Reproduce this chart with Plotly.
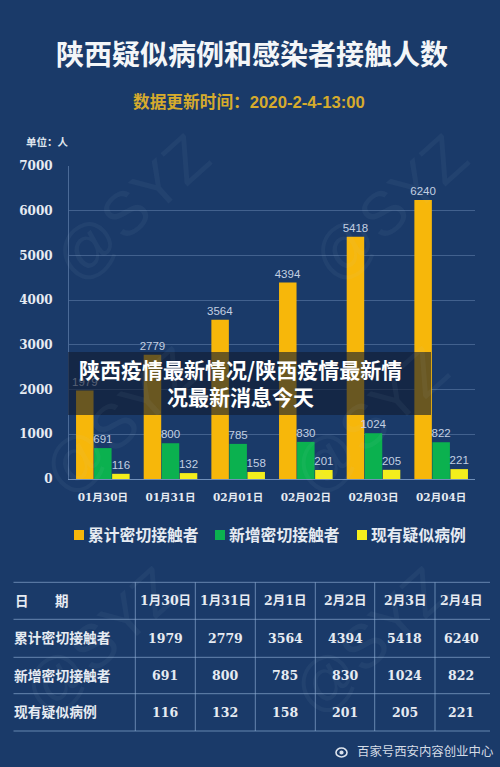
import plotly.graph_objects as go

W, H = 500, 767
dates = ["01月30日", "01月31日", "02月01日", "02月02日", "02月03日", "02月04日"]
table_dates = ["1月30日", "1月31日", "2月1日", "2月2日", "2月3日", "2月4日"]
cumulative = [1979, 2779, 3564, 4394, 5418, 6240]
new_contacts = [691, 800, 785, 830, 1024, 822]
suspected = [116, 132, 158, 201, 205, 221]
series_names = ["累计密切接触者", "新增密切接触者", "现有疑似病例"]
series_colors = ["#f7b70a", "#0bb14f", "#f4ee1c"]
y_ticks = [0, 1000, 2000, 3000, 4000, 5000, 6000, 7000]

BG = "#1a3a69"
CJK = "Noto Sans CJK SC"
SERIF = "DejaVu Serif"
LABEL = "#c3d0e2"
TEXT = "#e6ebf2"
LINE = "rgba(150,180,220,0.62)"


def px(x):
    return x / W


def py(y):
    return 1 - y / H


fig = go.Figure()
for name, vals, col in zip(series_names, [cumulative, new_contacts, suspected], series_colors):
    fig.add_bar(x=dates, y=vals, name=name, marker=dict(color=col, line_width=0),
                text=vals, textposition="outside", cliponaxis=False, textangle=0,
                constraintext="none", showlegend=False,
                textfont=dict(family="Liberation Sans", size=11.5, color=LABEL))

annots = []
shapes = []


def text(x, y, s, size, color=TEXT, family=CJK, anchor="center", **kw):
    annots.append(dict(xref="paper", yref="paper", x=px(x), y=py(y), text=s, showarrow=False,
                       xanchor=anchor, yanchor="middle", align="center",
                       font=dict(family=family, size=size, color=color), **kw))


def line(x0, y0, x1, y1, color=LINE, width=1):
    shapes.append(dict(type="line", xref="paper", yref="paper", x0=px(x0), y0=py(y0),
                       x1=px(x1), y1=py(y1), line=dict(color=color, width=width)))


# Watermarks
for wx, wy in [(132, 208), (390, 208), (120, 420), (370, 420), (100, 640), (370, 640)]:
    text(wx, wy, "@SYZ", 62, color="rgba(190,210,235,0.05)", family="Liberation Sans", textangle=-42)

# Headings
text(252, 53, "<b>陕西疑似病例和感染者接触人数</b>", 28, color="#f4f6f8")
text(249, 102, "<b>数据更新时间：2020-2-4-13:00</b>", 16.7, color="#d6ab2d",
     family=f"Liberation Sans, {CJK}")
text(47, 141, "<b>单位：人</b>", 10.5, color="#dfe5ee")

# Legend swatches and names
for sx, name, col in zip([74, 215, 357], series_names, series_colors):
    shapes.append(dict(type="rect", xref="paper", yref="paper", x0=px(sx), x1=px(sx + 10),
                       y0=py(540), y1=py(530), line_width=0, fillcolor=col))
    text(sx + 12, 534, f"<b>{name}</b>", 15.8, anchor="left")

# Table
t_left, t_right = 13.5, 490
col_x = [135.3, 195.3, 255.3, 315.3, 374.7, 435]
row_y = [582.3, 619.3, 657.3, 693.7, 731]
for y in row_y:
    line(t_left, y, t_right, y)
for x in col_x:
    line(x, row_y[0], x, row_y[-1])
centers = [(a + b) / 2 for a, b in zip(col_x, col_x[1:] + [t_right - 3])]
row_c = [(a + b) / 2 for a, b in zip(row_y, row_y[1:])]
text(13, row_c[0] - 1, "<b>日</b>", 13.5, anchor="left")
text(53, row_c[0] - 1, "<b>期</b>", 13.5, anchor="left")
for cx, d in zip(centers, table_dates):
    text(cx, row_c[0], f"<b>{d}</b>", 12.5, family=f"{SERIF}, {CJK}")
for ry, name, vals in zip(row_c[1:], series_names, [cumulative, new_contacts, suspected]):
    text(12, ry - 1, f"<b>{name}</b>", 13.8, anchor="left")
    for cx, v in zip(centers, vals):
        text(cx, ry, f"<b>{v}</b>", 12.5, family=SERIF)

# Source mark
shapes.append(dict(type="circle", xref="paper", yref="paper", x0=px(336), x1=px(347), y0=py(757),
                   y1=py(748), line=dict(color="#dfe5ee", width=1.6)))
shapes.append(dict(type="circle", xref="paper", yref="paper", x0=px(340), x1=px(343), y0=py(754),
                   y1=py(751), line=dict(color="#dfe5ee", width=1.2), fillcolor="#dfe5ee"))
text(425, 751, "百家号西安内容创业中心", 12.4, color="#d5dce6")

# Banner overlay
shapes.append(dict(type="rect", xref="paper", yref="paper", x0=px(68), x1=px(431), y0=py(415),
                   y1=py(352), layer="above", line_width=0, fillcolor="rgba(17,27,48,0.62)"))
text(240, 369, "<b>陕西疫情最新情况/陕西疫情最新情</b>", 21, color="#ffffff")
text(240, 396, "<b>况最新消息今天</b>", 21, color="#ffffff")

fig.update_layout(
    width=W, height=H, margin=dict(l=0, r=0, t=0, b=0), autosize=False,
    paper_bgcolor=BG, plot_bgcolor=BG,
    barmode="group", bargap=0.2, bargroupgap=0.03,
    font=dict(family=CJK), showlegend=False,
    annotations=annots, shapes=shapes,
    xaxis=dict(domain=[px(69), px(475)], automargin=False, showgrid=False, ticks="", showline=True,
               linecolor="rgba(150,180,220,0.7)", linewidth=1,
               tickfont=dict(family=f"{SERIF}, {CJK}", size=10.5, color=TEXT, weight="bold"),
               tickangle=0, ticklabelstandoff=8),
    yaxis=dict(domain=[py(479), py(166)], automargin=False, range=[0, 7000], tickvals=y_ticks, showgrid=True,
               gridcolor="rgba(150,180,220,0.33)", gridwidth=1, zeroline=False, showline=True,
               linecolor="rgba(150,180,220,0.4)", linewidth=1, ticks="",
               tickfont=dict(family=SERIF, size=12, color=TEXT, weight="bold"), ticklabelstandoff=13),
)

fig.write_html("out.html", config={"displayModeBar": False},
               post_script="document.body.style.margin='0';document.body.style.background='#1a3a69';")
